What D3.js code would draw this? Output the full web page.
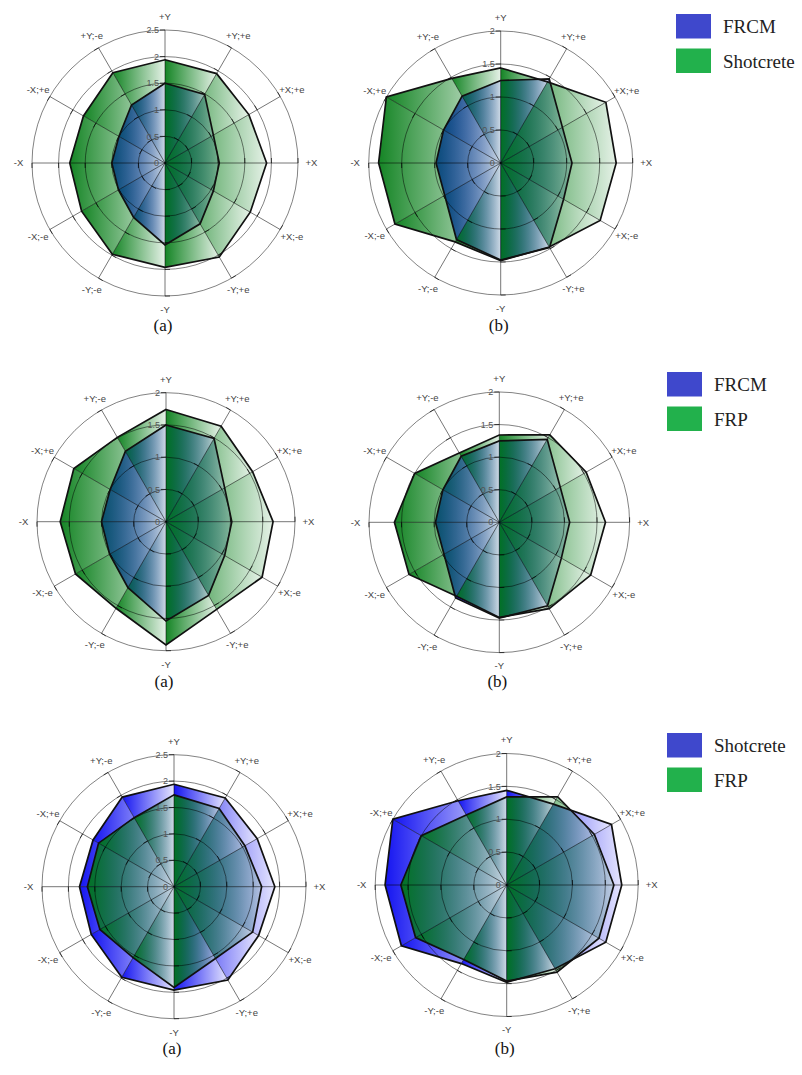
<!DOCTYPE html>
<html>
<head>
<meta charset="utf-8">
<script src="https://cdn.jsdelivr.net/npm/d3@7"></script>
<style>
  body { margin: 0; background: #fff; }
  svg { display: block; }
</style>
</head>
<body>
<svg id="fig" width="802" height="1075"></svg>
<script>
// Loading directions, clockwise from +Y
const directions = ["+Y", "+Y;+e", "+X;+e", "+X", "+X;-e", "-Y;+e", "-Y", "-Y;-e", "-X;-e", "-X", "-X;+e", "+Y;-e"];

// Case (a)
const frcmA      = [1.50, 1.49, 1.05, 1.02, 1.05, 1.32, 1.54, 1.18, 1.01, 1.00, 1.00, 1.26];
const shotcreteA = [1.94, 1.94, 1.82, 1.91, 1.85, 2.04, 1.96, 1.98, 1.81, 1.79, 1.77, 1.96];
const frpA       = [1.74, 1.71, 1.55, 1.66, 1.72, 1.57, 1.91, 1.55, 1.62, 1.64, 1.65, 1.51];

// Case (b)
const frcmB      = [1.25, 1.47, 1.08, 1.08, 1.10, 1.48, 1.47, 1.34, 0.98, 0.98, 1.00, 1.17];
const shotcreteB = [1.44, 1.42, 1.84, 1.75, 1.74, 1.47, 1.48, 1.38, 1.85, 1.85, 2.00, 1.48];
const frpB       = [1.34, 1.55, 1.54, 1.63, 1.62, 1.53, 1.46, 1.31, 1.60, 1.61, 1.50, 1.23];

// Radial tick labels
const ticksTo25 = ["0", "0.5", "1", "1.5", "2", "2.5"];
const ticksTo2  = ["0", "0.5", "1", "1.5", "2"];

const captions = ["(a)", "(b)"];

// Legend entries per row (first = blue, second = green)
const legendRow1 = ["FRCM", "Shotcrete"];
const legendRow2 = ["FRCM", "FRP"];
const legendRow3 = ["Shotcrete", "FRP"];

// ---------------------------------------------------------------
const swatch = ["#3f48cc", "#22b14c"];
const fillBase = ["#0000f0", "#007a12"];

const svg = d3.select("#fig");
const defs = svg.append("defs");

// horizontal fade used on every wedge (dark at the left, pale at the right)
fillBase.forEach((c, k) => {
  const g = defs.append("linearGradient")
    .attr("id", "fade" + k)
    .attr("x1", 0).attr("y1", 0).attr("x2", 1).attr("y2", 0);
  g.append("stop").attr("offset", 0).attr("stop-color", c).attr("stop-opacity", 0.92);
  g.append("stop").attr("offset", 1).attr("stop-color", c).attr("stop-opacity", 0.1);
});

const angle = d3.scaleLinear().domain([0, directions.length]).range([0, 2 * Math.PI]);

const panels = [
  { cx: 165,   cy: 163,   R: 133,   ticks: ticksTo25, series: [frcmA, shotcreteA], cap: captions[0], capY: 325 },
  { cx: 500.7, cy: 163,   R: 132,   ticks: ticksTo2,  series: [frcmB, shotcreteB], cap: captions[1], capY: 325 },
  { cx: 166,   cy: 521.7, R: 129,   ticks: ticksTo2,  series: [frcmA, frpA],       cap: captions[0], capY: 681 },
  { cx: 499.3, cy: 522.3, R: 130.3, ticks: ticksTo2,  series: [frcmB, frpB],       cap: captions[1], capY: 681 },
  { cx: 174,   cy: 886.7, R: 132,   ticks: ticksTo25, series: [shotcreteA, frpA],  cap: captions[0], capY: 1048 },
  { cx: 506.7, cy: 885,   R: 131.5, ticks: ticksTo2,  series: [shotcreteB, frpB],  cap: captions[1], capY: 1048 }
];

panels.forEach(p => {
  const maxV = +p.ticks[p.ticks.length - 1];
  const r = d3.scaleLinear().domain([0, maxV]).range([0, p.R]);
  const g = svg.append("g").attr("transform", `translate(${p.cx},${p.cy})`);

  const radial = d3.lineRadial().angle(d => d.a).radius(d => d.r);

  // filled wedges, one triangle per sector, series drawn in order
  p.series.forEach((vals, k) => {
    const n = vals.length;
    g.append("g").selectAll("path")
      .data(d3.range(n))
      .join("path")
      .attr("d", i => radial([
        { a: 0, r: 0 },
        { a: angle(i), r: r(vals[i]) },
        { a: angle(i + 1), r: r(vals[(i + 1) % n]) }
      ]) + "Z")
      .attr("fill", `url(#fade${k})`);
  });

  // rings
  g.append("g").selectAll("circle")
    .data(p.ticks.slice(1).map(Number))
    .join("circle")
    .attr("r", d => r(d))
    .attr("fill", "none")
    .attr("stroke", "#000")
    .attr("stroke-opacity", 0.55)
    .attr("stroke-width", 0.9);

  // spokes
  g.append("g").selectAll("path")
    .data(directions)
    .join("path")
    .attr("d", (d, i) => radial([{ a: angle(i), r: 0 }, { a: angle(i), r: p.R }]))
    .attr("stroke", "#000")
    .attr("stroke-opacity", 0.6)
    .attr("stroke-width", 0.9);

  // tick marks on each spoke
  const tickData = [];
  directions.forEach((d, i) => p.ticks.slice(1).forEach(t => tickData.push({ i, v: +t })));
  g.append("g").selectAll("line")
    .data(tickData)
    .join("line")
    .each(function (d) {
      const a = angle(d.i), rr = r(d.v);
      const x = rr * Math.sin(a), y = -rr * Math.cos(a);
      const px = -Math.cos(a), py = -Math.sin(a);
      d3.select(this)
        .attr("x1", x).attr("y1", y)
        .attr("x2", x + 5 * px).attr("y2", y + 5 * py);
    })
    .attr("stroke", "#000")
    .attr("stroke-opacity", 0.75)
    .attr("stroke-width", 0.9);

  // outlines
  p.series.forEach(vals => {
    g.append("path")
      .attr("d", d3.lineRadial()
        .angle((d, i) => angle(i))
        .radius(d => r(d))
        .curve(d3.curveLinearClosed)(vals))
      .attr("fill", "none")
      .attr("stroke", "#111")
      .attr("stroke-width", 1.7)
      .attr("stroke-linejoin", "miter");
  });

  // radial tick labels on the +Y axis
  g.append("g").selectAll("text")
    .data(p.ticks)
    .join("text")
    .attr("x", -6)
    .attr("y", d => -r(+d))
    .attr("dy", "0.35em")
    .attr("text-anchor", "end")
    .attr("font-family", "Liberation Sans, Arial, sans-serif")
    .attr("font-size", 9)
    .attr("fill", "#555")
    .text(d => d);

  // direction labels
  const lr = p.R + 13.5;
  g.append("g").selectAll("text")
    .data(directions)
    .join("text")
    .attr("x", (d, i) => lr * Math.sin(angle(i)))
    .attr("y", (d, i) => -lr * Math.cos(angle(i)))
    .attr("dy", "0.35em")
    .attr("text-anchor", "middle")
    .attr("font-family", "Liberation Sans, Arial, sans-serif")
    .attr("font-size", 9.5)
    .attr("fill", "#444")
    .text(d => d);

  // caption
  svg.append("text")
    .attr("x", p.cx - 2)
    .attr("y", p.capY)
    .attr("dy", "0.35em")
    .attr("text-anchor", "middle")
    .attr("font-family", "Liberation Serif, Times New Roman, serif")
    .attr("font-size", 17)
    .attr("fill", "#111")
    .text(p.cap);
});

// legends
const legends = [
  { x: 676, y: 14,  names: legendRow1 },
  { x: 667, y: 372, names: legendRow2 },
  { x: 667, y: 733, names: legendRow3 }
];
legends.forEach(L => {
  const lg = svg.append("g").attr("transform", `translate(${L.x},${L.y})`);
  L.names.forEach((name, k) => {
    lg.append("rect")
      .attr("x", 0).attr("y", k * 34.5)
      .attr("width", 35).attr("height", 24.5)
      .attr("fill", swatch[k]);
    lg.append("text")
      .attr("x", 47).attr("y", k * 34.5 + 12.5)
      .attr("dy", "0.35em")
      .attr("font-family", "Liberation Serif, Times New Roman, serif")
      .attr("font-size", 19)
      .attr("fill", "#222")
      .text(name);
  });
});
</script>
</body>
</html>
